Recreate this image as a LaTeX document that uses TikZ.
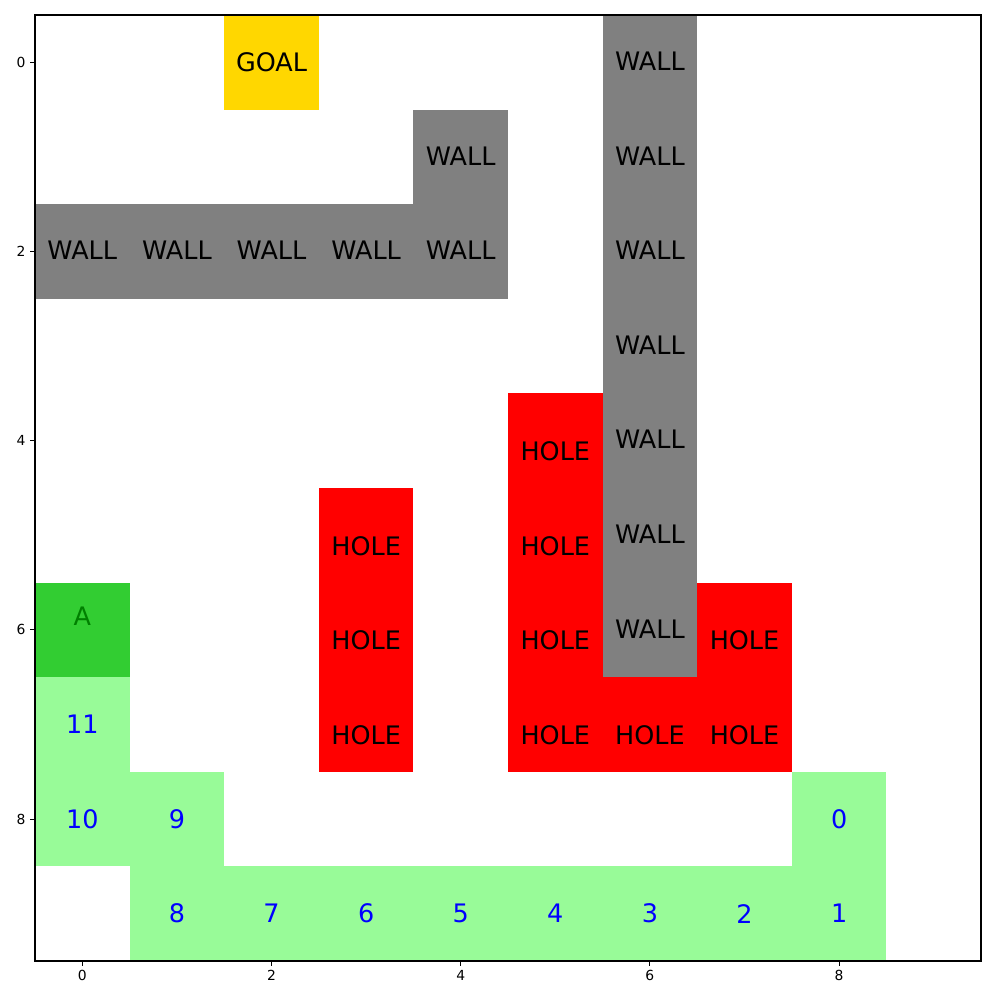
\documentclass[tikz,border=0pt]{standalone}
\usepackage{fontspec}
\setmainfont{DejaVu Sans}
\definecolor{goalc}{HTML}{FFD700}
\definecolor{wallc}{HTML}{808080}
\definecolor{holec}{HTML}{FF0000}
\definecolor{agentc}{HTML}{32CD32}
\definecolor{pathc}{HTML}{98FB98}
\definecolor{agenttxt}{HTML}{008000}
\definecolor{numtxt}{HTML}{0000FF}
\begin{document}
\begin{tikzpicture}[x=0.02cm,y=-0.02cm,
  cell/.style={draw=none,minimum width=1.892cm,minimum height=1.892cm,inner sep=0,outer sep=0},
  lbl/.style={font=\fontsize{14.5}{17}\selectfont,inner sep=0},
  ticklbl/.style={font=\fontsize{7.9}{9}\selectfont,inner sep=0},
  tickmark/.style={line width=0.63pt}]
\useasboundingbox[fill=white] (0,0) rectangle (1000,1000);
% goal
\node[cell,fill=goalc] (goal) at ({82.3+94.6*2},{62.3}) {};
\node[lbl] (goalt) at (goal.center) {GOAL};
% walls
\foreach \c/\r in {6/0,4/1,0/2,1/2,2/2,3/2,4/2,6/1,6/2,6/3,6/4,6/5,6/6}{
  \node[cell,fill=wallc] (w\c\r) at ({82.3+94.6*\c},{62.3+94.6*\r}) {};
  \node[lbl] (wt\c\r) at ([yshift=0.02cm]w\c\r.center) {WALL};
}
% holes
\foreach \c/\r in {5/4,3/5,5/5,3/6,5/6,7/6,3/7,5/7,6/7,7/7}{
  \node[cell,fill=holec] (h\c\r) at ({82.3+94.6*\c},{62.3+94.6*\r}) {};
  \node[lbl] (ht\c\r) at ([yshift=-0.21cm]h\c\r.center) {HOLE};
}
% agent
\node[cell,fill=agentc] (agent) at ({82.3},{62.3+94.6*6}) {};
\node[lbl,text=agenttxt] (agentt) at ([yshift=0.27cm]agent.center) {A};
% path
\foreach \c/\r/\n in {0/7/11,0/8/10,1/8/9,1/9/8,2/9/7,3/9/6,4/9/5,5/9/4,6/9/3,7/9/2,8/9/1,8/8/0}{
  \node[cell,fill=pathc] (p\n) at ({82.3+94.6*\c},{62.3+94.6*\r}) {};
  \node[lbl,text=numtxt] (pt\n) at (p\n.center) {\n};
}
% frame
\draw[tickmark] (35,15) rectangle (981,961);
% ticks
\foreach \k in {0,2,4,6,8}{
  \coordinate (xt\k) at ({82.3+94.6*\k},961);
  \draw[tickmark] (xt\k) -- ++(0,5) node[ticklbl,anchor=north,yshift=-0.08cm] (xl\k) {\k};
  \coordinate (yt\k) at (35,{62.3+94.6*\k});
  \draw[tickmark] (yt\k) -- ++(-5,0) node[ticklbl,anchor=east,xshift=-0.08cm] (yl\k) {\k};
}
\end{tikzpicture}
\end{document}
